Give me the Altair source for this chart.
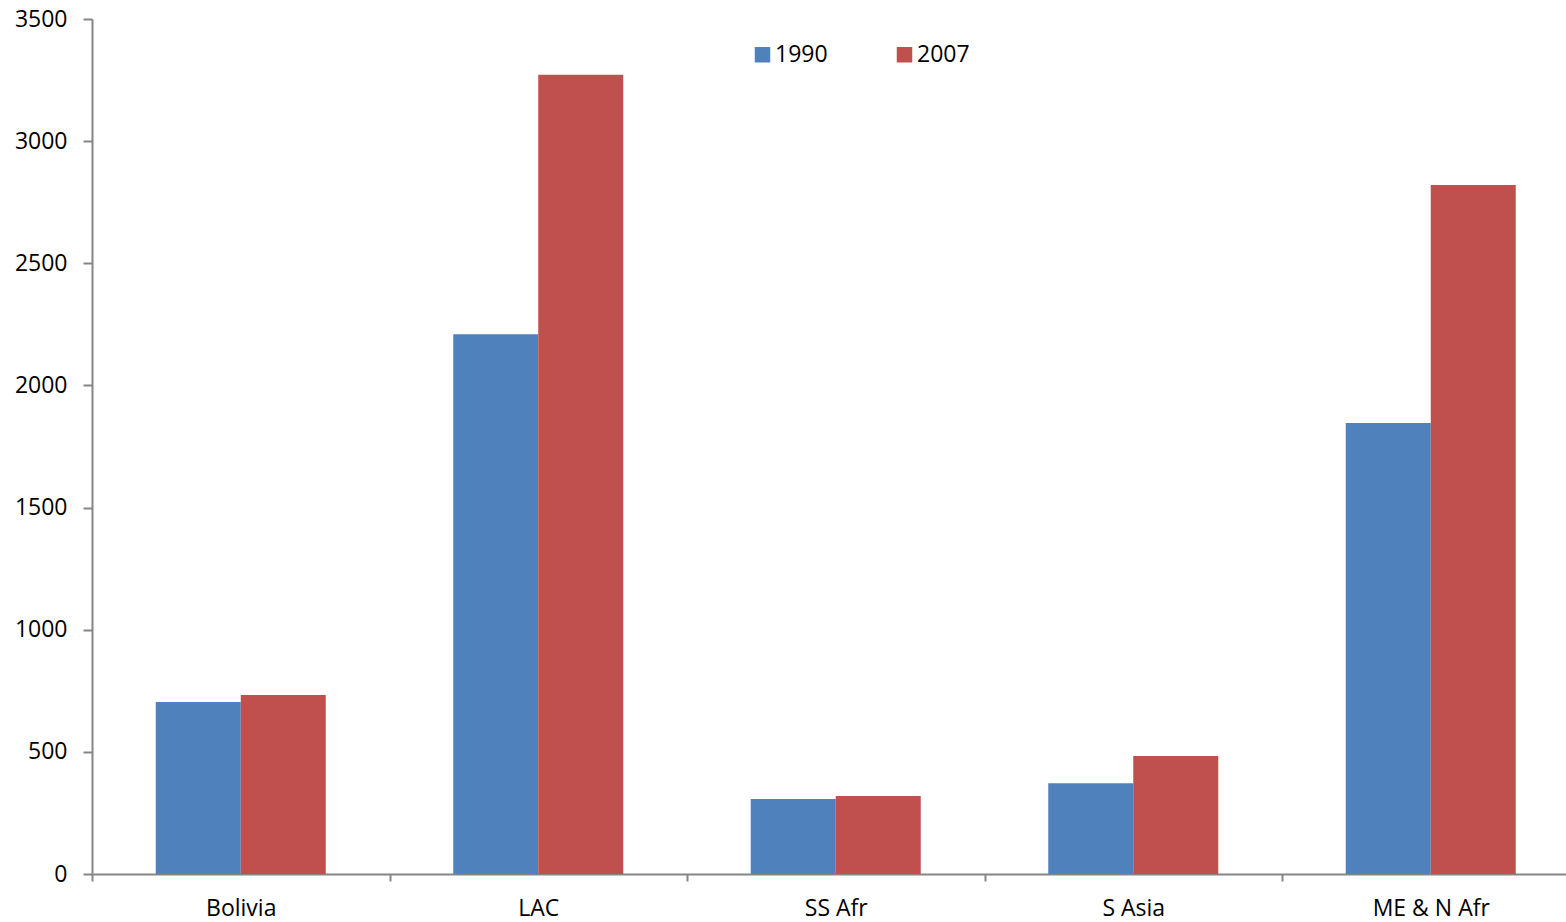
import altair as alt
import pandas as pd

# Regions and values for the two survey years
regions = ["Bolivia", "LAC", "SS Afr", "S Asia", "ME & N Afr"]
years = ["1990", "2007"]
values_1990 = [704, 2210, 307, 372, 1846]
values_2007 = [733, 3272, 319, 483, 2820]

colors = ["#4F81BD", "#C0504D"]
axis_gray = "#868686"
font = "Open Sans"

rows = []
for region, v1, v2 in zip(regions, values_1990, values_2007):
    rows.append({"region": region, "year": years[0], "value": v1})
    rows.append({"region": region, "year": years[1], "value": v2})
df = pd.DataFrame(rows)

step = 297.5  # width of one category band

chart = (
    alt.Chart(df)
    .mark_bar()
    .encode(
        x=alt.X(
            "region:N",
            sort=regions,
            title=None,
            scale=alt.Scale(range=[0, step * len(regions)], paddingInner=0, paddingOuter=0),
            axis=alt.Axis(
                labelAngle=0,
                tickBand="extent",
                tickSize=7,
                labelPadding=16,
                domainColor=axis_gray,
                tickColor=axis_gray,
                domainWidth=2,
                tickWidth=2,
                labelFont=font,
                labelFontSize=23,
                labelColor="#000000",
            ),
        ),
        xOffset=alt.XOffset("year:N", scale=alt.Scale(paddingInner=0, paddingOuter=0.75)),
        y=alt.Y(
            "value:Q",
            title=None,
            scale=alt.Scale(domain=[0, 3500], nice=False),
            axis=alt.Axis(
                values=[0, 500, 1000, 1500, 2000, 2500, 3000, 3500],
                format="d",
                grid=False,
                tickSize=9,
                labelPadding=16,
                domainColor=axis_gray,
                tickColor=axis_gray,
                domainWidth=2,
                tickWidth=2,
                labelFont=font,
                labelFontSize=23,
                labelColor="#000000",
            ),
        ),
        color=alt.Color(
            "year:N",
            scale=alt.Scale(domain=years, range=colors),
            legend=alt.Legend(
                title=None,
                orient="none",
                legendX=659,
                legendY=24,
                direction="horizontal",
                columns=2,
                columnPadding=65,
                symbolType="square",
                symbolSize=240,
                symbolStrokeWidth=0,
                labelOffset=1,
                labelFont=font,
                labelFontSize=23,
                labelColor="#000000",
            ),
        ),
    )
    .properties(
        width=1474,
        height=855,
        autosize=alt.AutoSizeParams(type="none"),
        padding={"left": 92, "top": 19, "right": 0, "bottom": 48},
        background="white",
    )
    .configure_view(stroke=None)
)

chart.save("out.html", embed_options={"renderer": "svg", "actions": False})
